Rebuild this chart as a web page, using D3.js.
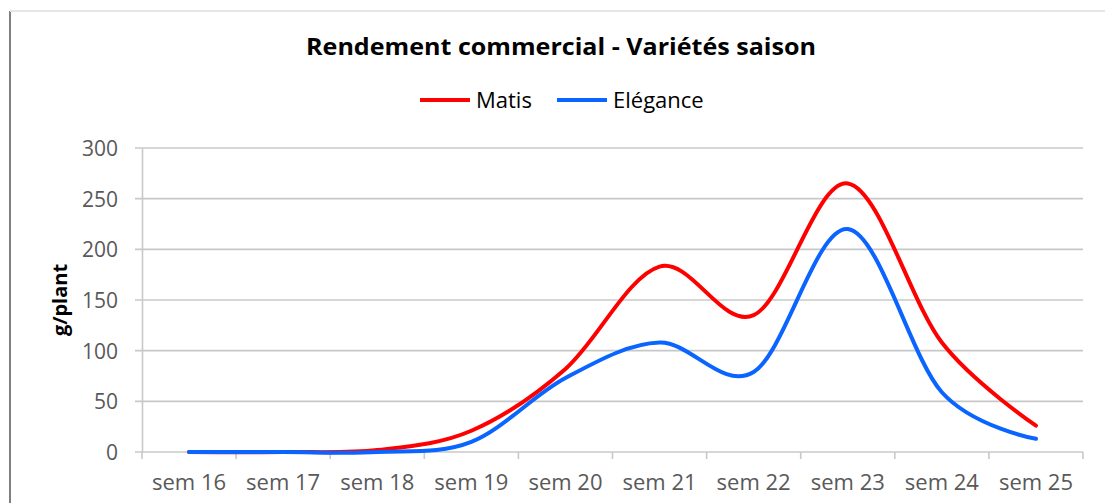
<!DOCTYPE html>
<html>
<head>
<meta charset="utf-8">
<script src="https://cdn.jsdelivr.net/npm/d3@7"></script>
<style>
  body { margin: 0; background: #fff; }
  text { font-family: "Open Sans", Lato, sans-serif; }
</style>
</head>
<body>
<div id="chart"></div>
<script>
// weeks and yield values (g/plant)
var weeks = ["sem 16", "sem 17", "sem 18", "sem 19", "sem 20", "sem 21", "sem 22", "sem 23", "sem 24", "sem 25"];
var matis = [0, 0, 2, 21, 82, 183, 135, 265, 108, 26];
var elegance = [0, 0, 0, 10, 73, 108, 79, 220, 59, 13];
var yTicks = [0, 50, 100, 150, 200, 250, 300];

var W = 1105, H = 503;
var margin = { top: 148, right: 22, bottom: 51, left: 142 };
var width = W - margin.left - margin.right;
var height = H - margin.top - margin.bottom;

var svg = d3.select("#chart").append("svg")
    .attr("width", W)
    .attr("height", H);

// chart frame (left and top edge visible)
svg.append("line").attr("x1", 10).attr("x2", 10).attr("y1", 11).attr("y2", H)
    .attr("stroke", "#7f7f7f").attr("stroke-width", 2);
svg.append("line").attr("x1", 10).attr("x2", W).attr("y1", 11).attr("y2", 11)
    .attr("stroke", "#e6e6e6").attr("stroke-width", 2);

var g = svg.append("g").attr("transform", "translate(" + margin.left + "," + margin.top + ")");

var x = d3.scaleBand().domain(weeks).range([0, width]);
var y = d3.scaleLinear().domain([0, 300]).range([height, 0]);

// gridlines
g.selectAll(".grid").data(yTicks).enter().append("line")
    .attr("x1", -7).attr("x2", width)
    .attr("y1", function(d) { return y(d); })
    .attr("y2", function(d) { return y(d); })
    .attr("stroke", "#c8c8c8").attr("stroke-width", 1.6);

// y axis
var yAxis = g.append("g").call(d3.axisLeft(y).tickValues(yTicks).tickSize(0).tickPadding(24));
yAxis.select(".domain").attr("stroke", "#c8c8c8").attr("stroke-width", 1.6);
yAxis.selectAll("text").attr("fill", "#595959").style("font-size", "21px").attr("dy", "0.35em");

// x axis
var xAxis = g.append("g").attr("transform", "translate(0," + height + ")")
    .call(d3.axisBottom(x).tickSize(0).tickPadding(22));
xAxis.select(".domain").remove();
xAxis.selectAll("text").attr("fill", "#595959").style("font-size", "22px").attr("dy", "0.71em");
g.selectAll(".xtick").data(d3.range(weeks.length + 1)).enter().append("line")
    .attr("x1", function(i) { return i * x.step(); })
    .attr("x2", function(i) { return i * x.step(); })
    .attr("y1", height).attr("y2", height + 7)
    .attr("stroke", "#c8c8c8").attr("stroke-width", 1.6);

// lines
var line = d3.line()
    .x(function(d, i) { return x(weeks[i]) + x.bandwidth() / 2; })
    .y(function(d) { return y(d); })
    .curve(d3.curveCardinal.tension(0));

g.append("path").datum(matis).attr("d", line)
    .attr("fill", "none").attr("stroke", "#ff0000").attr("stroke-width", 4).attr("stroke-linecap", "round");
g.append("path").datum(elegance).attr("d", line)
    .attr("fill", "none").attr("stroke", "#0a64ff").attr("stroke-width", 4).attr("stroke-linecap", "round");

// title
svg.append("text").attr("x", 561).attr("y", 55).attr("text-anchor", "middle")
    .style("font-size", "24px").style("font-weight", "bold").attr("fill", "#000")
    .attr("textLength", 510).attr("lengthAdjust", "spacingAndGlyphs")
    .text("Rendement commercial - Variétés saison");

// legend
var legend = [{ name: "Matis", color: "#ff0000", x: 420 }, { name: "Elégance", color: "#0a64ff", x: 557 }];
var lg = svg.selectAll(".legend").data(legend).enter().append("g")
    .attr("transform", function(d) { return "translate(" + d.x + ",100)"; });
lg.append("line").attr("x1", 0).attr("x2", 50).attr("y1", 0).attr("y2", 0)
    .attr("stroke", function(d) { return d.color; }).attr("stroke-width", 4);
lg.append("text").attr("x", 56).attr("dy", "0.35em")
    .style("font-size", "22px").attr("fill", "#000")
    .text(function(d) { return d.name; });

// y axis label
svg.append("text")
    .attr("transform", "translate(67," + (margin.top + height / 2) + ") rotate(-90)")
    .attr("text-anchor", "middle")
    .style("font-size", "20px").style("font-weight", "bold")
    .text("g/plant");
</script>
</body>
</html>
